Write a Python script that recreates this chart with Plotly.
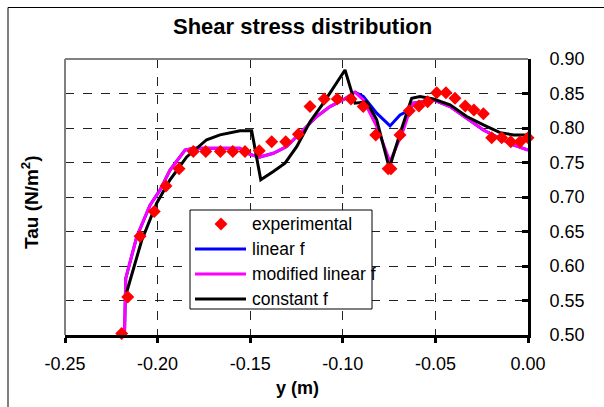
import plotly.graph_objects as go

# ---------------- data ----------------
exp_y = [-0.2194, -0.2161, -0.2095, -0.2018, -0.1955, -0.1884, -0.1807, -0.1740, -0.1661,
         -0.1594, -0.1528, -0.1451, -0.1384, -0.1308, -0.1240, -0.1177, -0.1100, -0.1030,
         -0.0956, -0.0890, -0.0822, -0.0755, -0.0740, -0.0691, -0.0641, -0.0589, -0.0542,
         -0.0493, -0.0443, -0.0394, -0.0339, -0.0292, -0.0241, -0.0196, -0.0142, -0.0093,
         -0.0043, 0.0000]
exp_tau = [0.502, 0.555, 0.643, 0.679, 0.716, 0.741, 0.766, 0.766, 0.766,
           0.766, 0.766, 0.767, 0.780, 0.780, 0.791, 0.831, 0.842, 0.842,
           0.842, 0.831, 0.790, 0.741, 0.741, 0.790, 0.825, 0.832, 0.838,
           0.851, 0.851, 0.843, 0.832, 0.826, 0.8205, 0.786, 0.786, 0.780,
           0.780, 0.786]

mod_y = [-0.2180, -0.2172, -0.2113, -0.2041, -0.1987, -0.1933, -0.1852, -0.1807, -0.1555,
         -0.1519, -0.1451, -0.1375, -0.1303, -0.1231, -0.1141, -0.1069, -0.0988, -0.0934,
         -0.0889, -0.0817, -0.0745, -0.0673, -0.0637, -0.0619, -0.0511, -0.0421, -0.0331,
         -0.0241, -0.0151, -0.0079, 0.0000]
mod_tau = [0.485, 0.582, 0.642, 0.688, 0.710, 0.739, 0.768, 0.7706, 0.7706,
           0.7634, 0.7576, 0.7634, 0.773, 0.792, 0.8166, 0.831, 0.8423, 0.852,
           0.8408, 0.802, 0.751, 0.797, 0.8263, 0.836, 0.8408, 0.831, 0.8142,
           0.797, 0.785, 0.7754, 0.768]

lin_y = [-0.2180, -0.2172, -0.2113, -0.2041, -0.1987, -0.1933, -0.1852, -0.1807, -0.1555,
         -0.1519, -0.1451, -0.1375, -0.1303, -0.1231, -0.1141, -0.1069, -0.0988, -0.0934,
         -0.0889, -0.0817, -0.0745, -0.0691, -0.0637, -0.0619, -0.0511, -0.0421, -0.0331,
         -0.0241, -0.0151, -0.0079, 0.0000]
lin_tau = [0.485, 0.582, 0.642, 0.688, 0.710, 0.739, 0.768, 0.7706, 0.7706,
           0.7634, 0.7576, 0.7634, 0.773, 0.792, 0.8166, 0.831, 0.8423, 0.852,
           0.8456, 0.8215, 0.803, 0.819, 0.8263, 0.836, 0.8408, 0.831, 0.8142,
           0.797, 0.785, 0.7754, 0.768]

const_y = [-0.2167, -0.2086, -0.2005, -0.1933, -0.1843, -0.1735, -0.1663, -0.1555, -0.1492,
           -0.1443, -0.1375, -0.1312, -0.1249, -0.1177, -0.1105, -0.0988, -0.0934, -0.0871,
           -0.0817, -0.0749, -0.0691, -0.0655, -0.0628, -0.0583, -0.0511, -0.0421, -0.0331,
           -0.0241, -0.0151, -0.0079, 0.0000]
const_tau = [0.562, 0.637, 0.691, 0.725, 0.758, 0.783, 0.790, 0.796, 0.796,
             0.725, 0.737, 0.749, 0.773, 0.809, 0.836, 0.884, 0.836, 0.838,
             0.812, 0.742, 0.792, 0.8215, 0.843, 0.8456, 0.842, 0.8336, 0.8166,
             0.8045, 0.7933, 0.790, 0.790]

x_ticks = [-0.25, -0.20, -0.15, -0.10, -0.05, 0.00]
y_ticks = [0.50, 0.55, 0.60, 0.65, 0.70, 0.75, 0.80, 0.85, 0.90]
legend_names = ["experimental", "linear f", "modified linear f", "constant f"]

# ---------------- layout geometry (pixels) ----------------
W, H = 604, 407
L, R, T, B = 65, 528, 59, 335
PW, PH = R - L, B - T
FONT = "Liberation Sans, Arial, sans-serif"


def px(xp):
    return (xp - L) / PW


def py(yp):
    return (B - yp) / PH


fig = go.Figure()
fig.add_trace(go.Scatter(x=lin_y, y=lin_tau, mode="lines", name="linear f",
                         line=dict(color="#0000FF", width=3), showlegend=False))
fig.add_trace(go.Scatter(x=mod_y, y=mod_tau, mode="lines", name="modified linear f",
                         line=dict(color="#FF00FF", width=3), showlegend=False))
fig.add_trace(go.Scatter(x=const_y, y=const_tau, mode="lines", name="constant f",
                         line=dict(color="#000000", width=3), showlegend=False))
fig.add_trace(go.Scatter(x=exp_y, y=exp_tau, mode="markers", name="experimental",
                         marker=dict(symbol="diamond", size=10, color="#FF0000",
                                     line=dict(width=0)),
                         cliponaxis=False, showlegend=False))

shapes = []
# chart outer frame (left and top edges)
shapes.append(dict(type="line", xref="paper", yref="paper", x0=px(8), x1=px(606),
                   y0=py(7.5), y1=py(7.5), line=dict(color="black", width=1)))
shapes.append(dict(type="line", xref="paper", yref="paper", x0=px(8), x1=px(8),
                   y0=py(7.5), y1=py(410), line=dict(color="black", width=1)))
# plot area gray borders (left & top)
shapes.append(dict(type="line", xref="paper", yref="paper", x0=0, x1=0, y0=0, y1=1,
                   line=dict(color="#808080", width=2)))
shapes.append(dict(type="line", xref="paper", yref="paper", x0=0, x1=1, y0=1, y1=1,
                   line=dict(color="#808080", width=2)))

# legend box
lx0, lx1, ly0, ly1 = 190, 372, 210, 309
shapes.append(dict(type="rect", xref="paper", yref="paper", x0=px(lx0), x1=px(lx1),
                   y0=py(ly1), y1=py(ly0), fillcolor="white",
                   line=dict(color="black", width=1), layer="above"))
rows = [224, 249, 274, 299]
line_colors = [None, "#0000FF", "#FF00FF", "#000000"]
annotations = []
for name, ry, col in zip(legend_names, rows, line_colors):
    if col is None:
        cx, s = 221, 6.5
        path = "M {} {} L {} {} L {} {} L {} {} Z".format(
            px(cx - s), py(ry), px(cx), py(ry - s), px(cx + s), py(ry), px(cx), py(ry + s))
        shapes.append(dict(type="path", xref="paper", yref="paper", path=path,
                           fillcolor="#FF0000", line=dict(width=0), layer="above"))
    else:
        shapes.append(dict(type="line", xref="paper", yref="paper", x0=px(195), x1=px(246),
                           y0=py(ry), y1=py(ry), line=dict(color=col, width=3),
                           layer="above"))
    annotations.append(dict(text=name, xref="paper", yref="paper", x=px(250), y=py(ry),
                            xanchor="left", yanchor="middle", showarrow=False,
                            font=dict(family=FONT, size=17.5, color="black")))

# title & axis titles
annotations.append(dict(text="<b>Shear stress distribution</b>", xref="paper", yref="paper",
                        x=px(302), y=py(27), xanchor="center", yanchor="middle",
                        showarrow=False, font=dict(family=FONT, size=22, color="black")))
annotations.append(dict(text="<b>y (m)</b>", xref="paper", yref="paper",
                        x=px(297), y=py(388), xanchor="center", yanchor="middle",
                        showarrow=False, font=dict(family=FONT, size=18, color="black")))
annotations.append(dict(text="<b>Tau (N/m<sup>2</sup>)</b>", xref="paper", yref="paper",
                        x=px(30), y=py(202), xanchor="center", yanchor="middle",
                        textangle=-90, showarrow=False,
                        font=dict(family=FONT, size=19, color="black")))

fig.update_layout(
    width=W, height=H,
    margin=dict(l=L, r=W - R, t=T, b=H - B, pad=0),
    paper_bgcolor="white", plot_bgcolor="white",
    showlegend=False,
    shapes=shapes, annotations=annotations,
    font=dict(family=FONT, size=18, color="black"),
)
fig.update_xaxes(range=[-0.25, 0.0], tickvals=x_ticks,
                 ticktext=["{:.2f}".format(v) for v in x_ticks],
                 showgrid=True, gridcolor="#222222", griddash="dash", gridwidth=1,
                 showline=True, linecolor="black", linewidth=3,
                 ticks="outside", ticklen=5, tickwidth=3, tickcolor="black",
                 ticklabelstandoff=5, zeroline=False,
                 tickfont=dict(family=FONT, size=18, color="black"))
fig.update_yaxes(range=[0.5, 0.9], tickvals=y_ticks,
                 ticktext=["{:.2f}".format(v) for v in y_ticks],
                 side="right",
                 showgrid=True, gridcolor="#222222", griddash="dash", gridwidth=1,
                 showline=True, linecolor="black", linewidth=3,
                 ticks="inside", ticklen=6, tickwidth=3, tickcolor="black",
                 ticklabelstandoff=15, zeroline=False,
                 tickfont=dict(family=FONT, size=18, color="black"))

fig.write_html("out.html")
